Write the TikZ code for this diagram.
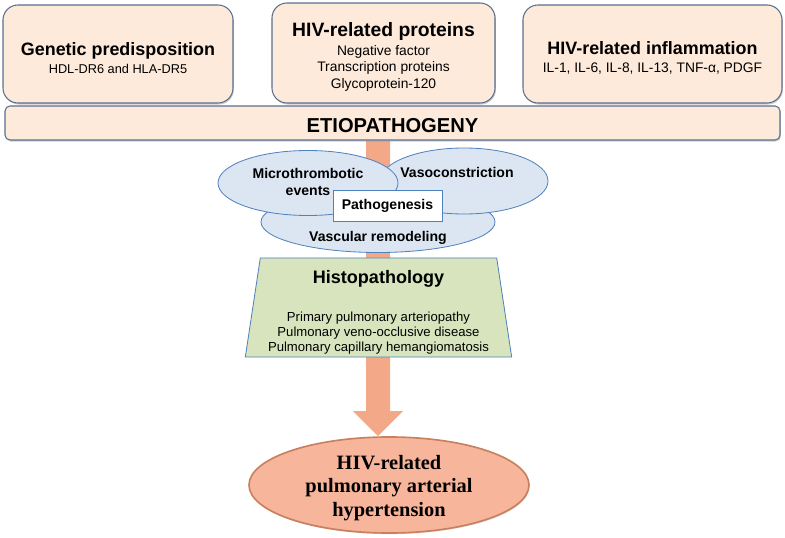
\documentclass[tikz,border=0pt]{standalone}
\usepackage{fontspec}
\setmainfont{Liberation Sans}
\newfontfamily\timesbf{Liberation Serif}
\usetikzlibrary{shapes.geometric,shadows,calc,backgrounds}
\definecolor{peach}{HTML}{FDEADA}
\definecolor{slate}{HTML}{5B6F8E}
\definecolor{salmon}{HTML}{F3A988}
\definecolor{paleblue}{HTML}{DCE6F2}
\definecolor{midblue}{HTML}{4F81BD}
\definecolor{palegreen}{HTML}{D7E4BD}
\definecolor{finfill}{HTML}{F7B59B}
\definecolor{finline}{HTML}{C9805F}
\newcommand{\hdfont}[1]{\fontsize{#1}{17}\selectfont\bfseries}
\newcommand{\blobfont}{\fontsize{12}{15}\selectfont\bfseries}
\begin{document}
\begin{tikzpicture}[x=0.03cm,y=-0.03cm,
  topbox/.style={draw=slate, fill=peach, line width=0.9pt, rounded corners=0.45cm, inner sep=0pt,
    drop shadow={shadow xshift=0.8pt, shadow yshift=-1.3pt, fill=black!40}},
  toptxt/.style={align=center, inner sep=0pt, font=\fontsize{11.8}{14}\selectfont},
  blob/.style={ellipse, draw=midblue, fill=paleblue, line width=0.7pt, inner sep=0pt},
  blobtxt/.style={font=\blobfont, align=center, inner sep=0pt},
  listtxt/.style={font=\fontsize{11.2}{12.8}\selectfont, align=center, inner sep=0pt}]
\useasboundingbox (0,0) rectangle (785,538);
\node[topbox, minimum width=6.9cm, minimum height=2.94cm] (gen) at (118,54) {};
\node[toptxt, font=\fontsize{10.9}{14}\selectfont] (gentxt) at ($(gen)+(0,4)$)
  {{\hdfont{15.3}Genetic predisposition}\\[2pt] HDL-DR6 and HLA-DR5};
\node[topbox, minimum width=6.69cm, minimum height=3cm] (prot) at (383.5,53) {};
\node[toptxt] (prottxt) at ($(prot)+(0,4)$)
  {{\hdfont{16.5}HIV-related proteins}\\[2pt] Negative factor\\
   Transcription proteins\\ Glycoprotein-120};
\node[topbox, minimum width=7.77cm, minimum height=2.94cm] (infl) at (652.5,54) {};
\node[toptxt] (infltxt) at ($(infl)+(0,4)$)
  {{\hdfont{15.3}HIV-related inflammation}\\[2pt] IL-1, IL-6, IL-8, IL-13, TNF-α, PDGF};
\node[topbox, rounded corners=0.15cm, minimum width=23.25cm, minimum height=1.02cm] (etio) at (392.5,123) {};
\node[inner sep=0pt, font=\fontsize{17.2}{19}\selectfont\bfseries] (etiotxt) at ($(etio)+(0,3)$) {ETIOPATHOGENY};
\node[blob, minimum width=7.02cm, minimum height=1.83cm] (vasc) at (378,222) {};
\node[blob, minimum width=5.04cm, minimum height=1.98cm] (vaso) at (464,181) {};
\node[blob, minimum width=5.4cm, minimum height=1.95cm] (micro) at (308,183) {};
\node[blobtxt] (microtxt) at ($(micro)+(0,-1)$) {Microthrombotic\\events};
\node[blobtxt] (vasotxt) at ($(vaso)+(-7,-9)$) {Vasoconstriction};
\node[blobtxt] (vasctxt) at ($(vasc)+(0,16)$) {Vascular remodeling};
\node[draw=midblue, fill=white, line width=0.7pt, minimum width=3.27cm, minimum height=0.93cm,
  inner sep=0pt, font=\blobfont] (patho) at (387.5,205.5) {Pathogenesis};
\node[trapezium, trapezium left angle=79.7, trapezium right angle=79.7, trapezium stretches=true,
  draw=midblue, fill=palegreen, line width=0.7pt, minimum width=8.01cm, minimum height=2.97cm,
  inner sep=0pt] (histo) at (378.5,307.5) {\rule{6.6cm}{0pt}\rule{0pt}{2.3cm}};
\node[listtxt] (histotxt) at ($(histo)+(0,5)$)
  {{\hdfont{15.4}Histopathology}\\[20pt] Primary pulmonary arteriopathy\\
   Pulmonary veno-occlusive disease\\ Pulmonary capillary hemangiomatosis};
\node[ellipse, draw=finline, fill=finfill, line width=1.4pt, minimum width=8.4cm, minimum height=2.88cm,
  inner sep=0pt, drop shadow={shadow xshift=0.6pt, shadow yshift=-1pt, fill=black!30}] (fin) at (389,485) {};
\node[align=center, inner sep=0pt, font=\timesbf\fontsize{17.4}{20}\selectfont\bfseries] (fintxt)
  at ($(fin)+(0,3)$) {HIV-related\\ pulmonary arterial\\ hypertension};
\begin{scope}[on background layer]
\coordinate (atop) at ($(etio.south)+(-14.5,0)$);
\coordinate (atip) at ($(fin.north)+(-11,0)$);
\fill[salmon] ($(atop)+(-12,0)$) -- ($(atip)+(-12,-25)$) -- ($(atip)+(-25,-25)$) -- (atip)
  -- ($(atip)+(25,-25)$) -- ($(atip)+(12,-25)$) -- ($(atop)+(12,0)$) -- cycle;
\end{scope}
\end{tikzpicture}
\end{document}
